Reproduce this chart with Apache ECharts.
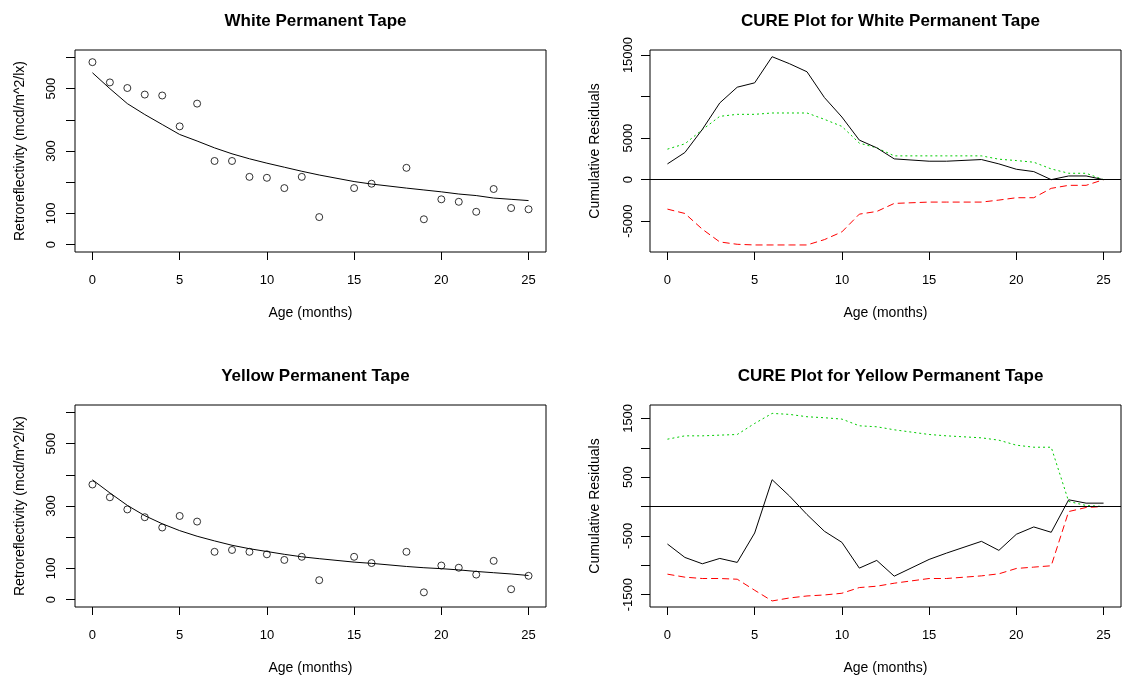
<!DOCTYPE html>
<html>
<head>
<meta charset="utf-8">
<script src="https://cdn.jsdelivr.net/npm/echarts@6/dist/echarts.min.js"></script>
<style>
  html, body { margin: 0; padding: 0; background: #fff; }
  #main { width: 1128px; height: 680px; }
</style>
</head>
<body>
<div id="main"></div>
<script>
// ages (months) where the tapes were measured
var ages = [0, 1, 2, 3, 4, 5, 6, 7, 8, 9, 10, 11, 12, 13, 15, 16, 18, 19, 20, 21, 22, 23, 24, 25];

// white tape: observed and fitted retroreflectivity
var whiteObs = [585, 520, 502, 481, 478, 379, 452, 268, 268, 217, 214, 181, 217, 88, 181, 195, 246, 81, 145, 137, 105, 178, 117, 113];
var whiteFit = [551, 500, 452, 417, 385, 353, 332, 310, 291, 275, 261, 248, 235, 223, 202, 194, 181, 175, 169, 162, 157, 149, 145, 141];

// yellow tape: observed and fitted retroreflectivity
var yellowObs = [369, 328, 289, 264, 231, 268, 250, 153, 159, 153, 145, 127, 137, 62, 137, 117, 153, 23, 109, 102, 80, 124, 33, 76];
var yellowFit = [384, 342, 302, 269, 243, 221, 203, 188, 174, 163, 154, 145, 137, 131, 120, 116, 106, 102, 99, 95, 90, 86, 82, 77];

// CURE plots: cumulative residuals and +/- limits
var whiteCure = [1895, 3266, 6048, 9234, 11129, 11653, 14798, 13952, 12984, 9879, 7540, 4758, 3830, 2500, 2218, 2218, 2419, 1895, 1250, 968, 0, 444, 444, 0];
var whiteUpper = [3669, 4314, 6008, 7620, 7862, 7862, 8024, 8024, 8024, 7258, 6411, 4395, 3830, 2863, 2863, 2863, 2863, 2460, 2298, 2097, 1290, 766, 766, 0];
var whiteLower = [-3548, -4072, -5967, -7500, -7782, -7862, -7862, -7862, -7862, -7217, -6290, -4153, -3830, -2863, -2702, -2702, -2702, -2460, -2177, -2177, -1048, -685, -685, 0];

var yellowCure = [-639, -867, -975, -884, -952, -451, 456, 177, -137, -422, -610, -1049, -918, -1186, -901, -793, -593, -747, -473, -348, -439, 114, 57, 57];
var yellowUpper = [1146, 1203, 1203, 1215, 1226, 1414, 1585, 1568, 1528, 1511, 1488, 1374, 1357, 1306, 1226, 1203, 1169, 1129, 1044, 1009, 1009, 86, 17, 0];
var yellowLower = [-1152, -1203, -1226, -1226, -1238, -1426, -1608, -1557, -1523, -1506, -1477, -1380, -1357, -1306, -1226, -1226, -1181, -1146, -1055, -1032, -1009, -86, -17, 0];

// tick marks and labels
var xTicks = [0, 5, 10, 15, 20, 25];
var retroTicks = [0, 100, 200, 300, 400, 500, 600];
var retroLabels = [0, 100, 300, 500];
var whiteCureTicks = [-5000, 0, 5000, 10000, 15000];
var whiteCureLabels = [-5000, 0, 5000, 15000];
var yellowCureTicks = [-1500, -1000, -500, 0, 500, 1000, 1500];
var yellowCureLabels = [-1500, -500, 500, 1500];

var titles = ['White Permanent Tape', 'CURE Plot for White Permanent Tape',
              'Yellow Permanent Tape', 'CURE Plot for Yellow Permanent Tape'];

function pairs(xs, ys) {
    return xs.map(function (x, i) { return [x, ys[i]]; });
}

// plain numbers, no thousands separator
function plain(v) { return String(v); }

var FONT = 'Liberation Sans, Arial, sans-serif';
var boxes = [
    { left: 75, top: 50 }, { left: 650, top: 50 },
    { left: 75, top: 405 }, { left: 650, top: 405 }
];
var BW = 471, BH = 202;

var grids = boxes.map(function (b) {
    return { left: b.left, top: b.top, width: BW, height: BH, show: true,
             borderColor: '#000', borderWidth: 1, backgroundColor: 'transparent' };
});

var titleOpts = boxes.map(function (b, i) {
    return { text: titles[i], left: b.left + BW / 2, top: b.top - 42, textAlign: 'center',
             textStyle: { fontSize: 17, fontWeight: 'bold', color: '#000', fontFamily: FONT } };
});

var xAxes = boxes.map(function (b, i) {
    return {
        gridIndex: i, type: 'value', min: -1, max: 26,
        name: 'Age (months)', nameLocation: 'middle', nameGap: 54,
        nameTextStyle: { fontSize: 14, color: '#000', fontFamily: FONT },
        axisLine: { show: false, onZero: false },
        axisTick: { show: true, length: 8, lineStyle: { color: '#000' }, customValues: xTicks },
        axisLabel: { customValues: xTicks, margin: 22, fontSize: 13, color: '#000', fontFamily: FONT,
                     formatter: plain },
        splitLine: { show: false }
    };
});

function yAxis(i, min, max, ticks, labels, name, margin, gap) {
    return {
        gridIndex: i, type: 'value', min: min, max: max,
        name: name, nameLocation: 'middle', nameGap: gap, nameRotate: 90,
        nameTextStyle: { fontSize: 14, color: '#000', fontFamily: FONT },
        axisLine: { show: false, onZero: false },
        axisTick: { show: true, length: 9, lineStyle: { color: '#000' }, customValues: ticks },
        axisLabel: { customValues: labels, rotate: 90, margin: margin, fontSize: 13, color: '#000',
                     fontFamily: FONT, formatter: plain },
        splitLine: { show: false }
    };
}

var yAxes = [
    yAxis(0, -24, 624, retroTicks, retroLabels, 'Retroreflectivity (mcd/m^2/lx)', 17, 48),
    yAxis(1, -8710, 15606, whiteCureTicks, whiteCureLabels, 'Cumulative Residuals', 15, 48),
    yAxis(2, -24, 624, retroTicks, retroLabels, 'Retroreflectivity (mcd/m^2/lx)', 17, 48),
    yAxis(3, -1711, 1728, yellowCureTicks, yellowCureLabels, 'Cumulative Residuals', 15, 48)
];

function obsSeries(i, ys) {
    return { type: 'scatter', xAxisIndex: i, yAxisIndex: i, data: pairs(ages, ys),
             symbol: 'circle', symbolSize: 7, silent: true,
             itemStyle: { color: 'rgba(0,0,0,0)', borderColor: '#000', borderWidth: 1 } };
}

function lineSeries(i, ys, color, type, zeroLine) {
    var s = { type: 'line', xAxisIndex: i, yAxisIndex: i, data: pairs(ages, ys),
              showSymbol: false, silent: true,
              lineStyle: { color: color, width: 1, type: type } };
    if (zeroLine) {
        // horizontal reference at zero
        s.markLine = { silent: true, symbol: 'none', label: { show: false },
                       lineStyle: { color: '#000', width: 1, type: 'solid' },
                       data: [{ yAxis: 0 }] };
    }
    return s;
}

var series = [
    obsSeries(0, whiteObs),
    lineSeries(0, whiteFit, '#000', 'solid'),
    lineSeries(1, whiteUpper, '#00cc00', [2, 3]),
    lineSeries(1, whiteLower, '#ff0000', [7, 4]),
    lineSeries(1, whiteCure, '#000', 'solid', true),
    obsSeries(2, yellowObs),
    lineSeries(2, yellowFit, '#000', 'solid'),
    lineSeries(3, yellowUpper, '#00cc00', [2, 3]),
    lineSeries(3, yellowLower, '#ff0000', [7, 4]),
    lineSeries(3, yellowCure, '#000', 'solid', true)
];

var chart = echarts.init(document.getElementById('main'), null, { renderer: 'canvas' });
chart.setOption({
    animation: false,
    backgroundColor: '#fff',
    title: titleOpts,
    grid: grids,
    xAxis: xAxes,
    yAxis: yAxes,
    series: series
});
</script>
</body>
</html>
